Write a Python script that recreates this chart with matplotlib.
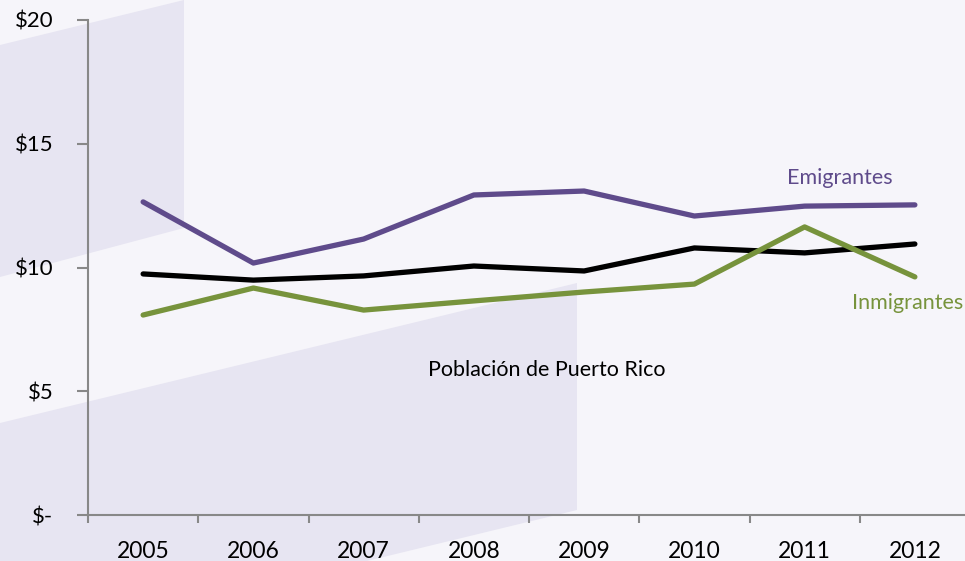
import matplotlib.pyplot as plt
from matplotlib.patches import Polygon

plt.rcParams['font.family'] = ['Lato', 'DejaVu Sans']

years = ['2005', '2006', '2007', '2008', '2009', '2010', '2011', '2012']
emigrantes = [12.65, 10.18, 11.15, 12.93, 13.09, 12.08, 12.48, 12.53]
poblacion = [9.74, 9.49, 9.66, 10.06, 9.86, 10.79, 10.59, 10.95]
inmigrantes = [8.08, 9.17, 8.28, 8.65, 9.01, 9.33, 11.64, 9.62]
ytick_vals = [0, 5, 10, 15, 20]
ytick_labels = ['$-', '$5', '$10', '$15', '$20']

purple = '#5f4b8b'
green = '#77933c'
bg = '#f6f5fa'
shade = '#e7e5f2'

fig = plt.figure(figsize=(9.65, 5.61), dpi=100, facecolor=bg)

# background decoration, in pixel coordinates
deco = fig.add_axes([0, 0, 1, 1], zorder=0)
deco.set_xlim(0, 965)
deco.set_ylim(561, 0)
deco.axis('off')
deco.add_patch(Polygon([(0, 45), (184, 0), (184, 228), (0, 277)], closed=True,
                       facecolor=shade, edgecolor='none'))
deco.add_patch(Polygon([(0, 423), (577, 283), (577, 510), (367, 561), (0, 561)],
                       closed=True, facecolor=shade, edgecolor='none'))

ax = fig.add_axes([88 / 965, 1 - 515 / 561, 882 / 965, 495 / 561], zorder=1)
ax.set_facecolor('none')

x = range(len(years))
ax.plot(x, emigrantes, color=purple, lw=3.8, solid_capstyle='round')
ax.plot(x, poblacion, color='black', lw=3.8, solid_capstyle='round')
ax.plot(x, inmigrantes, color=green, lw=3.8, solid_capstyle='round')

ax.set_xlim(-0.5, len(years) - 0.5)
ax.set_ylim(0, 20)
ax.set_yticks(ytick_vals)
ax.set_yticklabels(ytick_labels)
ax.set_xticks([i - 0.5 for i in range(len(years) + 1)])
ax.set_xticklabels([])
ax.set_xticks(list(x), minor=True)
ax.set_xticklabels(years, minor=True)
ax.tick_params(axis='x', which='minor', length=0, pad=18.5, labelsize=16.5)
ax.tick_params(axis='x', which='major', length=6, width=1.5, color='#888888', direction='out')
ax.tick_params(axis='y', length=8, width=1.5, color='#888888', labelsize=16, pad=17)

for s in ['top', 'right']:
    ax.spines[s].set_visible(False)
for s in ['left', 'bottom']:
    ax.spines[s].set_color('#888888')
    ax.spines[s].set_linewidth(1.5)

ax.text(6.32, 13.6, 'Emigrantes', color=purple, fontsize=15.5, ha='center', va='center')
ax.text(6.43, 8.57, 'Inmigrantes', color=green, fontsize=15.5, ha='left', va='center')
ax.text(2.58, 5.86, 'Población de Puerto Rico', color='black', fontsize=15.5,
        ha='left', va='center')

fig.savefig('out.png', dpi=100, facecolor=bg)
